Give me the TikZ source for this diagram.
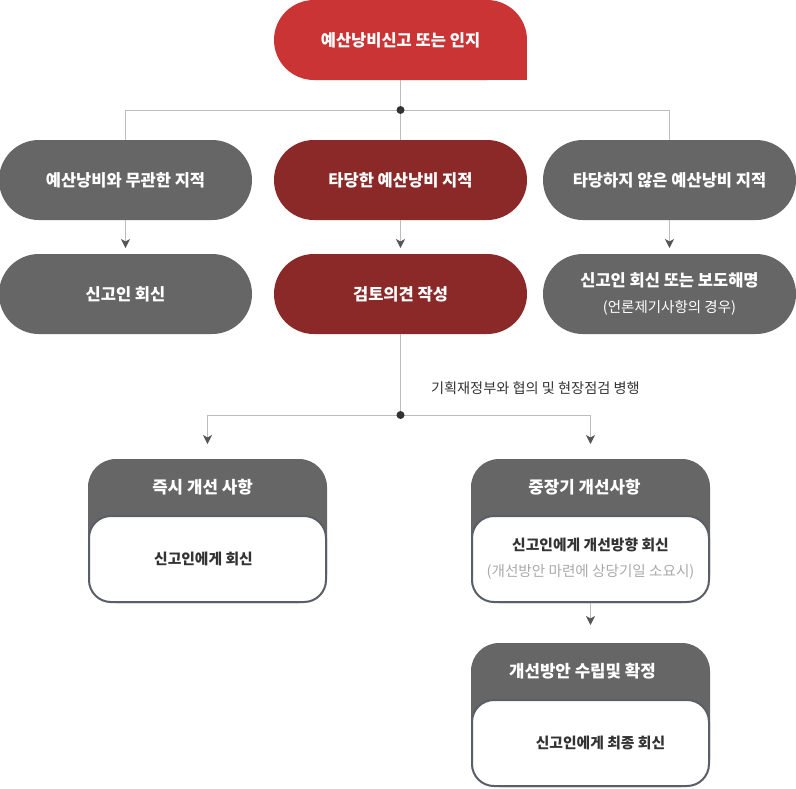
\documentclass[tikz,border=0pt]{standalone}
\usepackage{fontspec}
\usepackage{xcolor}
\usepackage{tikz}
\usetikzlibrary{arrows.meta,positioning,calc,backgrounds}
\newfontfamily\krfont{Noto Sans CJK KR}
\definecolor{ReportRed}{HTML}{CB3434}
\definecolor{ReportWine}{HTML}{8B2929}
\definecolor{ReportGray}{HTML}{666666}
\definecolor{ReportRule}{HTML}{BDBDBD}
\definecolor{ReportTip}{HTML}{555555}
\definecolor{ReportDot}{HTML}{333333}
\definecolor{ReportEdge}{HTML}{5A5E66}
\definecolor{ReportInk}{HTML}{333333}
\definecolor{ReportNote}{HTML}{AAAAAA}
\begin{document}
\begin{tikzpicture}[
  x=1pt,y=1pt,
  pill/.style={rounded corners=39.9pt,minimum width=253pt,minimum height=80pt,inner sep=0pt,outer sep=0pt,align=center,text=white,font=\krfont\bfseries\fontsize{16.5pt}{26pt}\selectfont},
  graypill/.style={pill,fill=ReportGray},
  winepill/.style={pill,fill=ReportWine},
  stage/.style={fill=ReportGray,rounded corners=28pt,minimum width=239pt,minimum height=144pt,inner sep=0pt,outer sep=0pt},
  stagehead/.style={minimum height=57pt,inner sep=0pt,outer sep=0pt,text=white,font=\krfont\bfseries\fontsize{16.8pt}{18pt}\selectfont},
  stagebody/.style={fill=white,draw=ReportEdge,line width=2pt,rounded corners=22pt,minimum width=237pt,minimum height=86pt,inner sep=0pt,outer sep=1pt,align=center,text=ReportInk,font=\krfont\bfseries\fontsize{14.8pt}{26pt}\selectfont},
  rule/.style={draw=ReportRule,line width=1pt},
  edge/.style={rule,-{Stealth[length=9pt,width=9pt,inset=2.5pt,color=ReportTip]}},
  dot/.style={fill=ReportDot}
]
\useasboundingbox (0,0) rectangle (796,-788);
\node[pill,fill=ReportRed] (report) at (400.5,-40) {예산낭비신고 또는 인지};
\begin{scope}[on background layer]
\fill[ReportRed] (report.center) rectangle (report.south east);
\end{scope}
\node[winepill,below=60pt of report] (valid) {타당한 예산낭비 지적};
\node[graypill,left=22pt of valid] (unrelated) {예산낭비와 무관한 지적};
\node[graypill,right=16pt of valid] (invalid) {타당하지 않은 예산낭비 지적};
\node[graypill,below=34pt of unrelated] (replyplain) {신고인 회신};
\node[winepill,below=34pt of valid] (review) {검토의견 작성};
\node[graypill,below=34pt of invalid] (replypress) {신고인 회신 또는 보도해명\\{\mdseries\fontsize{14.5pt}{26pt}\selectfont (언론제기사항의 경우)}};
\coordinate (split1) at ($(report.south)!0.5!(valid.north)$);
\coordinate (split2) at ($(review.south)+(0,-81)$);
\node[anchor=west,text=ReportInk,font=\krfont\fontsize{14.2pt}{16pt}\selectfont] (consult) at ($(split2)+(27,27)$) {기획재정부와 협의 및 현장점검 병행};
% lower stages
\node[stage,anchor=north] (quick) at ($(split2)+(-193,-44)$) {};
\node[stagehead,anchor=north,xshift=-5pt] (quickhead) at (quick.north) {즉시 개선 사항};
\node[stagebody,anchor=south] (quickbody) at (quick.south) {신고인에게 회신\hspace*{8pt}};
\node[stage,anchor=north] (longterm) at ($(split2)+(190,-44)$) {};
\node[stagehead,anchor=north,xshift=-6pt] (longtermhead) at (longterm.north) {중장기 개선사항};
\node[stagebody,anchor=south] (longtermbody) at (longterm.south) {신고인에게 개선방향 회신\\{\mdseries\fontsize{14.6pt}{26pt}\selectfont\color{ReportNote}(개선방안 마련에 상당기일 소요시)}};
\node[stage,below=40pt of longterm] (plan) {};
\node[stagehead,anchor=north,xshift=-8pt] (planhead) at (plan.north) {개선방안 수립및 확정};
\node[stagebody,anchor=south] (planbody) at (plan.south) {\hspace*{20pt}신고인에게 최종 회신};
% connectors
\draw[rule] (report) -- (split1);
\draw[rule] (split1) -| (unrelated.north);
\draw[rule] (split1) -- (valid);
\draw[rule] (split1) -| (invalid.north);
\fill[dot] (split1) circle (4pt);
\draw[edge,shorten >=6pt] (unrelated) -- (replyplain);
\draw[edge,shorten >=6pt] (valid) -- (review);
\draw[edge,shorten >=6pt] (invalid) -- (replypress);
\draw[rule] (review) -- (split2);
\draw[edge,shorten >=15pt] (split2) -| (quick.north);
\draw[edge,shorten >=15pt] (split2) -| (longterm.north);
\fill[dot] (split2) circle (4pt);
\draw[edge,shorten >=18pt] (longterm) -- (plan);
\end{tikzpicture}
\end{document}
